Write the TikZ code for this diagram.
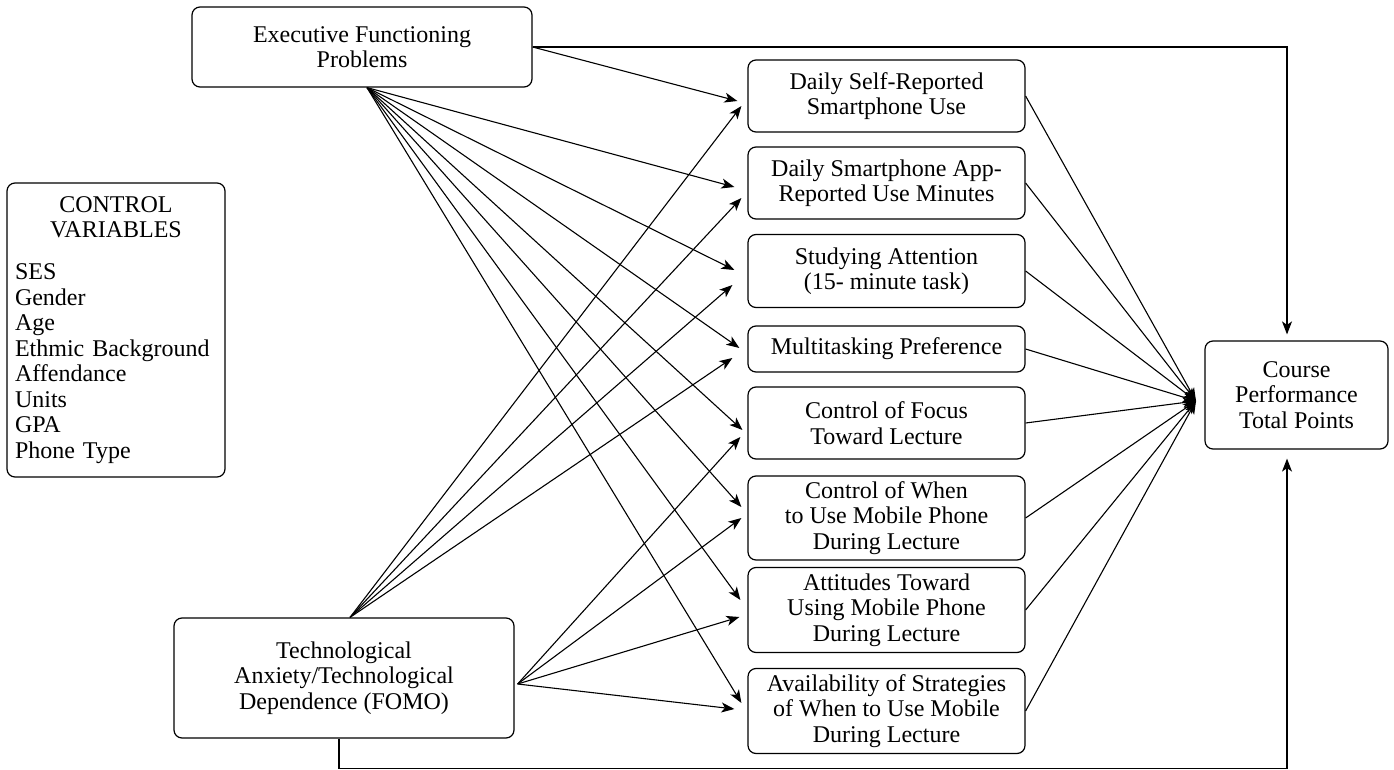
\documentclass[tikz,border=0pt]{standalone}
\usepackage{fontspec}
\setmainfont{Liberation Serif}
\usetikzlibrary{arrows.meta,calc}

\newcommand{\boxfont}{\fontsize{24}{25.5}\selectfont}

\tikzset{
  box/.style={draw, rounded corners=8pt, line width=1.2pt, align=center,
    inner sep=4pt, font=\boxfont},
  midbox/.style={box, minimum width=277pt},
  conn/.style={line width=1.1pt, -{Stealth[length=13pt,width=10pt,inset=3.5pt]}},
  plain/.style={line width=1.1pt},
}

\begin{document}
\begin{tikzpicture}[x=1pt,y=-1pt]
\useasboundingbox (0,0) rectangle (1394,770);

% sources and control variables
\node[box, minimum width=340pt, minimum height=80pt] (ef) at (362,47)
  {Executive Functioning\\Problems};
\node[box, minimum width=340pt, minimum height=120pt] (fomo) at (344,678)
  {Technological\\Anxiety/Technological\\Dependence (FOMO)};
\node[box, align=left, text width=202pt, inner sep=8pt, minimum height=294pt] (ctrl) at (116,330)
  {\centering CONTROL\\VARIABLES\par\vspace{16.5pt}\raggedright
   SES\\Gender\\Age\\Ethmic Background\\Affendance\\Units\\GPA\\Phone Type};

% mediators
\node[midbox, minimum height=72pt] (b1) at (886.5,96) {Daily Self-Reported\\Smartphone Use};
\node[midbox, minimum height=72pt] (b2) at (886.5,183) {Daily Smartphone App-\\Reported Use Minutes};
\node[midbox, minimum height=73pt] (b3) at (886.5,271) {Studying Attention\\(15- minute task)};
\node[midbox, minimum height=46pt] (b4) at (886.5,349) {Multitasking Preference};
\node[midbox, minimum height=72pt] (b5) at (886.5,423) {Control of Focus\\Toward Lecture};
\node[midbox, minimum height=84pt] (b6) at (886.5,518) {Control of When\\to Use Mobile Phone\\During Lecture};
\node[midbox, minimum height=85pt] (b7) at (886.5,610) {Attitudes Toward\\Using Mobile Phone\\During Lecture};
\node[midbox, minimum height=85pt] (b8) at (886.5,711) {Availability of Strategies\\of When to Use Mobile\\During Lecture};

% outcome
\node[box, minimum width=183pt, minimum height=108pt] (course) at (1296.5,395)
  {Course\\Performance\\Total Points};
\coordinate (conv) at (1196,401);

% executive functioning paths
\draw[conn] (ef.east) -- ($(b1.west)+(-10,5)$);
\draw[conn] ($(ef.south)+(5,0)$) -- ($(b2.west)+(-13,4)$);
\draw[conn] ($(ef.south)+(5,0)$) -- ($(b3.west)+(-13,-1)$);
\draw[conn] ($(ef.south)+(5,0)$) -- ($(b4.west)+(-8,-1)$);
\draw[conn] ($(ef.south)+(5,0)$) -- ($(b5.west)+(-5,7)$);
\draw[conn] ($(ef.south)+(5,0)$) -- ($(b6.west)+(-6,-11)$);
\draw[conn] ($(ef.south)+(5,0)$) -- ($(b7.west)+(-7,-10)$);
\draw[conn] ($(ef.south)+(5,0)$) -- ($(b8.west)+(-6,-8)$);
\draw[conn] (ef.east) -| ($(course.north)+(-9.5,-6)$);

% FOMO paths
\draw[conn] ($(fomo.north)+(6,0)$) -- ($(b1.west)+(-6,10)$);
\draw[conn] ($(fomo.north)+(6,0)$) -- ($(b2.west)+(-6,15)$);
\draw[conn] ($(fomo.north)+(6,0)$) -- ($(b3.west)+(-15,14)$);
\draw[conn] ($(fomo.north)+(6,0)$) -- ($(b4.west)+(-15,9)$);
\draw[conn] ($(fomo.east)+(3,6)$) -- ($(b5.west)+(-7,14)$);
\draw[conn] ($(fomo.east)+(3,6)$) -- ($(b6.west)+(-6,0)$);
\draw[conn] ($(fomo.east)+(3,6)$) -- ($(b7.west)+(-8,7)$);
\draw[conn] ($(fomo.east)+(3,6)$) -- ($(b8.west)+(-13,-2)$);
\draw[conn] ($(fomo.south)+(-5,0)$) -- ++(0,30) -| ($(course.south)+(-9.5,9)$);

% mediators to outcome
\draw[conn] (b1.east) -- (conv);
\draw[conn] (b2.east) -- (conv);
\draw[conn] (b3.east) -- (conv);
\draw[conn] (b4.east) -- (conv);
\draw[conn] (b5.east) -- (conv);
\draw[conn] (b6.east) -- (conv);
\draw[conn] (b7.east) -- (conv);
\draw[conn] (b8.east) -- (conv);
\end{tikzpicture}
\end{document}
